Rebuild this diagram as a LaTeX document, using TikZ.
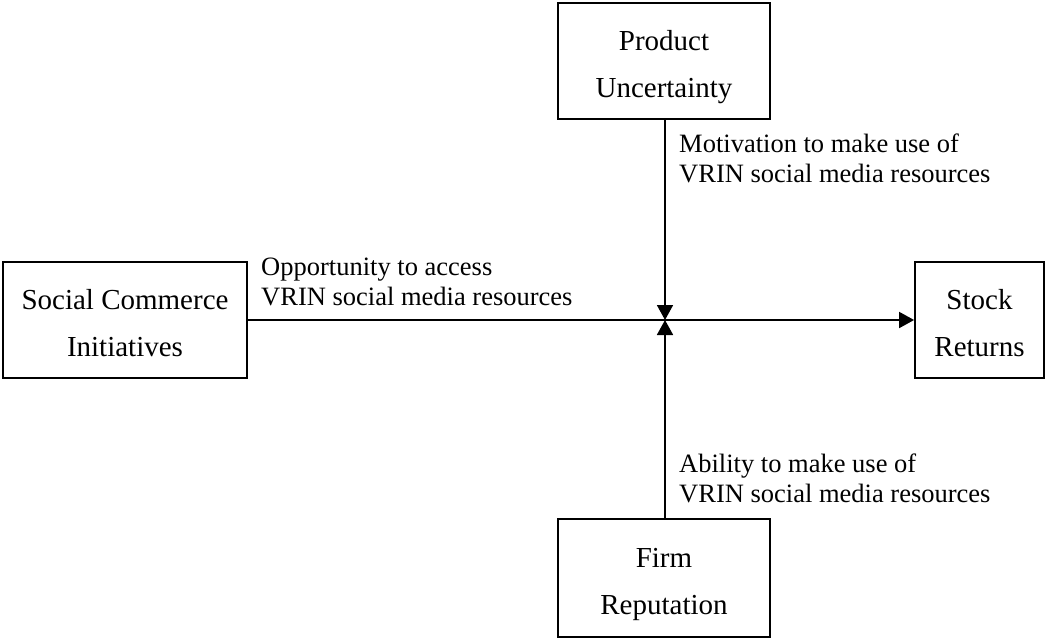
\documentclass[tikz,border=0pt]{standalone}
\usepackage{fontspec}
\setmainfont{Liberation Serif}
\usetikzlibrary{arrows.meta}

\begin{document}
\begin{tikzpicture}[x=1pt, y=-1pt,
    box/.style={draw, line width=1.8pt, align=center, inner sep=0pt,
        text height=73pt, text depth=0pt, font=\fontsize{29}{47}\selectfont},
    lbl/.style={anchor=north west, align=left, inner sep=0pt,
        font=\fontsize{26.5}{30}\selectfont},
    pijl/.style={line width=1.8pt, -{Triangle[length=15pt, width=16pt]}}]

    \useasboundingbox (0,0) rectangle (1048,640);

    % blokken
    \node[box, minimum width=212pt, minimum height=116pt] (onzeker) at (664,61) {Product\\Uncertainty};
    \node[box, minimum width=244pt, minimum height=116pt] (sci) at (125,320) {Social Commerce\\Initiatives};
    \node[box, minimum width=129pt, minimum height=116pt] (rendement) at (979.5,320) {Stock\\Returns};
    \node[box, minimum width=212pt, minimum height=118pt] (reputatie) at (664,578) {Firm\\Reputation};

    % kruispunt
    \coordinate (midden) at (665,320);

    % pijlen
    \draw[pijl] (sci.east |- midden) -- (rendement.west |- midden);
    \draw[pijl] (onzeker.south -| midden) -- (midden);
    \draw[pijl] (reputatie.north -| midden) -- (midden);

    % labels
    \node[lbl] (motivatie) at (679,134) {Motivation to make use of\\VRIN social media resources};
    \node[lbl] (kans) at (261,258) {Opportunity to access\\VRIN social media resources};
    \node[lbl] (vermogen) at (679,454) {Ability to make use of\\VRIN social media resources};
\end{tikzpicture}
\end{document}
